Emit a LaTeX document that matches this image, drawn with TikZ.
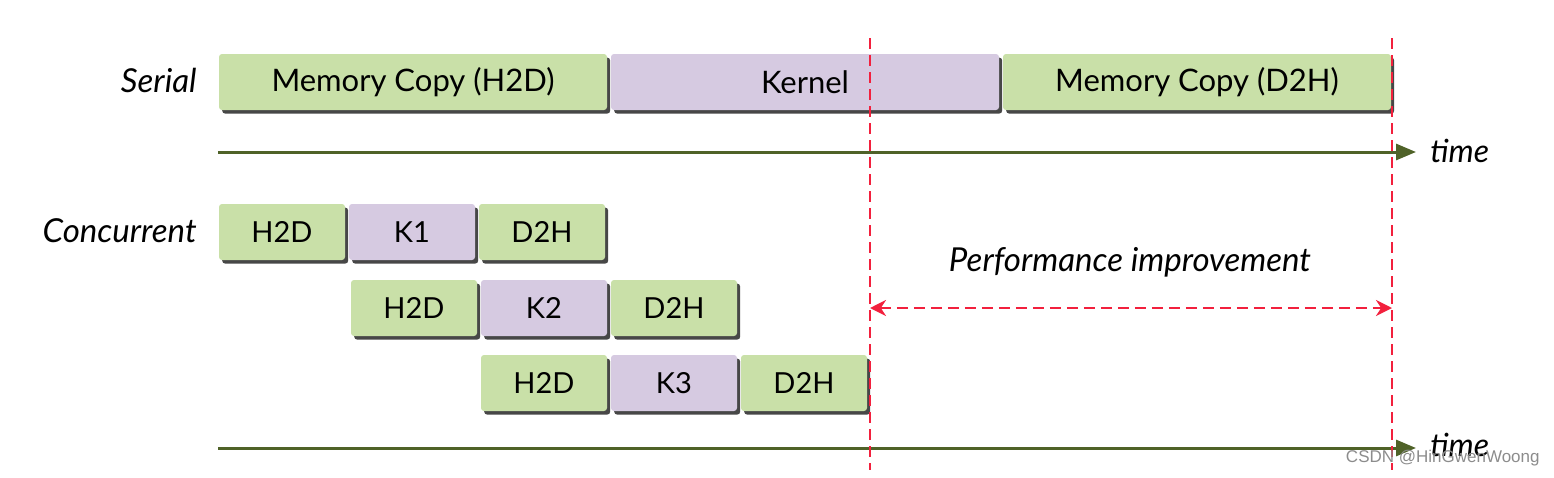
\documentclass[tikz,border=0pt]{standalone}
\usepackage{fontspec}
\setmainfont{Lato}
\newfontfamily\wmfont{Liberation Sans}
\usetikzlibrary{arrows.meta,shadows}
\definecolor{boxgreen}{HTML}{C9E0A8}
\definecolor{boxpurple}{HTML}{D6CAE1}
\definecolor{axisgreen}{HTML}{4F6228}
\definecolor{dashred}{HTML}{F2203D}
\tikzset{
  blk/.style={rounded corners=1.5pt, inner sep=0pt, minimum height=28pt,
    drop shadow={shadow xshift=1.6pt, shadow yshift=-1.8pt, fill=black!72, opacity=1}},
  longblk/.style={blk, minimum width=194pt, font=\fontsize{15.5}{18}\selectfont},
  shortblk/.style={blk, minimum width=63pt, font=\fontsize{14.5}{17}\selectfont},
  copyblk/.style={fill=boxgreen},
  kernblk/.style={fill=boxpurple},
  rowlabel/.style={anchor=east, font=\fontsize{16.5}{19}\selectfont\itshape, inner sep=0pt},
  timelabel/.style={anchor=west, font=\fontsize{16}{19}\selectfont\itshape, inner sep=0pt},
  axisline/.style={draw=axisgreen, line width=1.5pt, -{Triangle[length=10pt,width=8pt]}},
  reddash/.style={draw=dashred, line width=1.4pt, dash pattern=on 5.5pt off 3pt},
}
\begin{document}
\begin{tikzpicture}[x=0.5pt,y=-0.5pt]
\useasboundingbox (0,0) rectangle (1554,477);
% serial
\node[rowlabel] (serial) at (197,80) {Serial};
\node[longblk,copyblk] (h2d) at (413,82) {Memory Copy (H2D)};
\node[longblk,kernblk] (kern) at (805,82) {Kernel};
\node[longblk,copyblk] (d2h) at (1197,82) {Memory Copy (D2H)};
\coordinate (a1s) at (218,152);
\coordinate (a1e) at (1416,152);
\draw[axisline] (a1s) -- (a1e);
\node[timelabel] (time1) at (1430,151) {time};
% concurrent
\node[rowlabel] (conc) at (197,231) {Concurrent};
\node[shortblk,copyblk] (h2da) at (282,232) {H2D};
\node[shortblk,kernblk] (k1) at (412,232) {K1};
\node[shortblk,copyblk] (d2ha) at (542,232) {D2H};
\node[shortblk,copyblk] (h2db) at (414,308) {H2D};
\node[shortblk,kernblk] (k2) at (544,308) {K2};
\node[shortblk,copyblk] (d2hb) at (674,308) {D2H};
\node[shortblk,copyblk] (h2dc) at (544,383) {H2D};
\node[shortblk,kernblk] (k3) at (674,383) {K3};
\node[shortblk,copyblk] (d2hc) at (804,383) {D2H};
\coordinate (a2s) at (218,448);
\coordinate (a2e) at (1416,448);
\draw[axisline] (a2s) -- (a2e);
\node[timelabel] (time2) at (1430,445) {time};
% dashed markers
\coordinate (l1) at (870,38);
\coordinate (l2) at (870,470);
\coordinate (r1) at (1392,38);
\coordinate (r2) at (1392,470);
\draw[reddash] (l1) -- (l2);
\draw[reddash] (r1) -- (r2);
\coordinate (pl) at (870,308);
\coordinate (pr) at (1392,308);
\draw[reddash, {Stealth[length=8pt,width=8pt]}-{Stealth[length=8pt,width=8pt]}] (pl) -- (pr);
\node[font=\fontsize{16.5}{19}\selectfont\itshape, inner sep=0pt] (perf) at (1130,262) {Performance improvement};
\node[anchor=east, inner sep=0pt, text=black!45, font=\wmfont\fontsize{8.5}{10}\selectfont] (wm) at (1540,458) {CSDN @HinGwenWoong};
\end{tikzpicture}
\end{document}
